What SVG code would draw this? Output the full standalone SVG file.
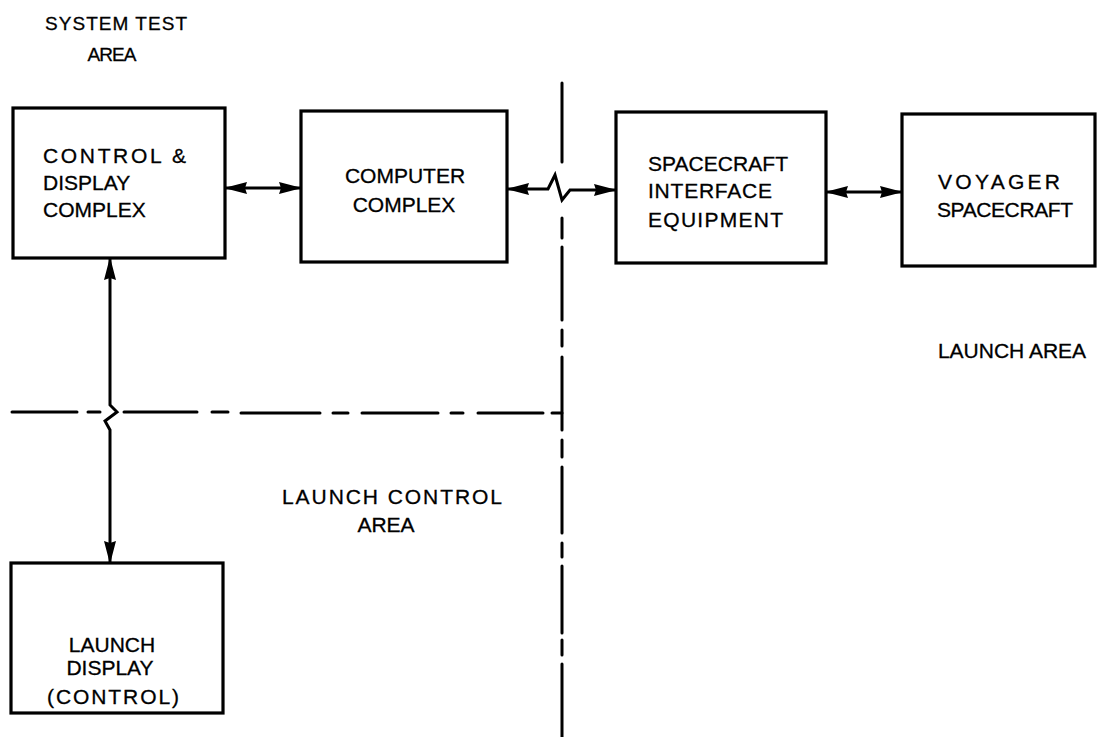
<svg xmlns="http://www.w3.org/2000/svg" width="1097" height="737" viewBox="0 0 1097 737">
  <style>
    .box { fill: #ffffff; stroke: #000000; stroke-width: 3.2; }
    .link { fill: none; stroke: #000000; stroke-width: 3; stroke-linejoin: miter; }
    .bound { fill: none; stroke: #000000; stroke-width: 3; stroke-linecap: round; }
    text { font-family: "Liberation Sans", Arial, sans-serif; font-size: 21px; fill: #000000; stroke: #000000; stroke-width: 0.3; }
    .lbl { font-size: 19px; }
  </style>
  <defs>
    <marker id="head" viewBox="0 0 23 14" refX="22" refY="7" markerWidth="23" markerHeight="14" markerUnits="userSpaceOnUse" orient="auto-start-reverse">
      <path d="M0,1 L23,7 L0,13 L2,7 z" fill="#000000"/>
    </marker>
  </defs>

  <rect width="1097" height="737" fill="#ffffff"/>

  <!-- area boundaries (dash-dot) -->
  <g id="boundaries">
    <path class="bound" d="M562,83 V162 M562,218 V238 M562,247 V320 M562,330 V346 M562,357 V430 M562,440 V457 M562,467 V533 M562,543 V557 M562,566 V633 M562,640 V655 M562,664 V737"/>
    <path class="bound" d="M12,412 H77 M88,412 H100 M124,412 H197 M212,412 H228 M241,413 H320 M333,413 H348 M362,413 H438 M451,413 H463 M478,413 H543 M552,413 H562"/>
  </g>

  <!-- area labels -->
  <g id="area-labels">
    <text class="lbl" x="116" y="30" text-anchor="middle" textLength="142">SYSTEM TEST</text>
    <text class="lbl" x="112" y="61" text-anchor="middle" textLength="49">AREA</text>
    <text x="392" y="504" text-anchor="middle" textLength="220">LAUNCH CONTROL</text>
    <text x="386" y="532" text-anchor="middle">AREA</text>
    <text x="1012" y="358" text-anchor="middle">LAUNCH AREA</text>
  </g>

  <!-- connectors -->
  <g id="connectors">
    <path class="link" d="M225,188 H301" marker-start="url(#head)" marker-end="url(#head)"/>
    <path class="link" d="M507,189 L548,189 L555,175 L562,200 L570,190 L616,190" marker-start="url(#head)" marker-end="url(#head)"/>
    <path class="link" d="M826,192 H902" marker-start="url(#head)" marker-end="url(#head)"/>
    <path class="link" d="M110,258 L110,405 L117,412 L105,421 L110,430 L110,563" marker-start="url(#head)" marker-end="url(#head)"/>
  </g>

  <g id="control-display">
    <rect class="box" x="13" y="108" width="212" height="150"/>
    <text x="43" y="163" textLength="143">CONTROL &amp;</text>
    <text x="43" y="190">DISPLAY</text>
    <text x="43" y="217">COMPLEX</text>
  </g>

  <g id="computer">
    <rect class="box" x="301" y="111" width="206" height="151"/>
    <text x="405" y="183" text-anchor="middle">COMPUTER</text>
    <text x="404" y="212" text-anchor="middle">COMPLEX</text>
  </g>

  <g id="interface">
    <rect class="box" x="616" y="112" width="210" height="151"/>
    <text x="648" y="171" textLength="140">SPACECRAFT</text>
    <text x="648" y="198" textLength="124">INTERFACE</text>
    <text x="648" y="227" textLength="135">EQUIPMENT</text>
  </g>

  <g id="voyager">
    <rect class="box" x="902" y="114" width="193" height="152"/>
    <text x="999" y="189" text-anchor="middle" textLength="122">VOYAGER</text>
    <text x="1005" y="217" text-anchor="middle" textLength="136">SPACECRAFT</text>
  </g>

  <g id="launch-display">
    <rect class="box" x="11" y="563" width="212" height="150"/>
    <text x="112" y="652" text-anchor="middle">LAUNCH</text>
    <text x="110" y="675" text-anchor="middle">DISPLAY</text>
    <text x="113" y="704" text-anchor="middle" textLength="132">(CONTROL)</text>
  </g>
</svg>
